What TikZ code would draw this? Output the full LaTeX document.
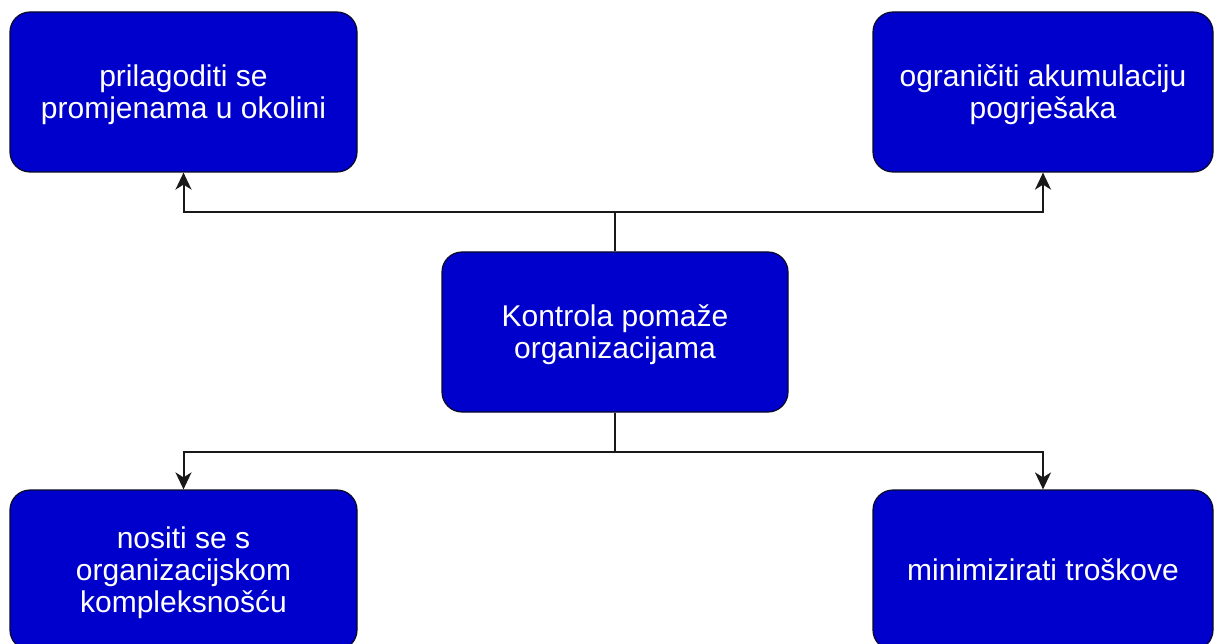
\documentclass[tikz,border=0pt]{standalone}
\usepackage{fontspec}
\setmainfont{Liberation Sans}
\usetikzlibrary{arrows.meta}
\definecolor{boxblue}{RGB}{0,0,204}
\definecolor{boxedge}{RGB}{10,10,40}
\definecolor{linegray}{RGB}{25,25,25}
\tikzset{
  box/.style={draw=boxedge, line width=1.2pt, fill=boxblue, rounded corners=20pt,
    minimum height=160pt, text=white, align=center, inner sep=0pt,
    font=\fontsize{30}{32}\selectfont, text depth=-2pt},
  conn/.style={draw=linegray, line width=2pt},
  arr/.style={conn, -{Stealth[length=17pt,width=16pt,inset=5pt]}}
}
\begin{document}
\begin{tikzpicture}[x=1pt,y=-1pt]
\useasboundingbox (0,0) rectangle (1217,644);
\clip (0,0) rectangle (1217,644);
\fill[white] (0,0) rectangle (1217,644);
\node[box, minimum width=347pt] (tl) at (183.5,92) {prilagoditi se\\promjenama u okolini};
\node[box, minimum width=340pt] (tr) at (1043,92) {ograničiti akumulaciju\\pogrješaka};
\node[box, minimum width=346pt] (c) at (615,332) {Kontrola pomaže\\organizacijama};
\node[box, minimum width=347pt] (bl) at (183.5,570) {nositi se s\\organizacijskom\\kompleksnošću};
\node[box, minimum width=340pt] (br) at (1043,570) {minimizirati troškove};
\coordinate (jt) at (615,212);
\coordinate (jb) at (615,452);
\draw[conn] (c.north) -- (jt);
\draw[arr] (jt) -| (tl.south);
\draw[arr] (jt) -| (tr.south);
\draw[conn] (c.south) -- (jb);
\draw[arr] (jb) -| (bl.north);
\draw[arr] (jb) -| (br.north);
\end{tikzpicture}
\end{document}
